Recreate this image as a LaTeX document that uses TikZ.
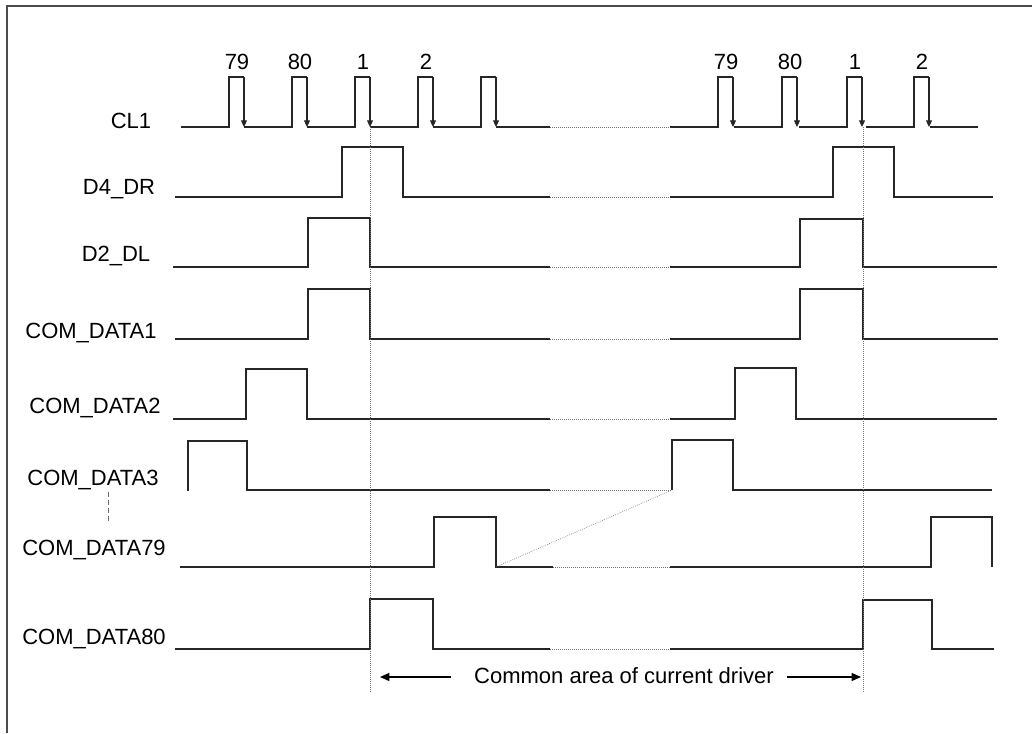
\documentclass[tikz,border=0pt]{standalone}
\usepackage{fontspec}
\setmainfont{Liberation Sans}
\usetikzlibrary{positioning, arrows.meta, calc}

\begin{document}
\begin{tikzpicture}[x=0.75pt, y=-0.75pt,
    sig/.style={line width=0.8pt, black!85},
    gap/.style={densely dotted, line width=0.5pt, black!55},
    lbl/.style={font=\fontsize{16.5}{19}\selectfont, inner sep=0pt, anchor=base},
    clk/.style={sig, -{Triangle[width=4.5pt, length=5pt]}},
    arr/.style={line width=0.9pt, -{Triangle[width=6pt, length=7pt]}}]
  \useasboundingbox (0,0) rectangle (1032,733);
  \draw[line width=1.2pt, black!70] (7,733) -- (7,6) -- (1032,6);

  \node[lbl] (cl1) at (131,128) {CL1};
  \node[lbl] (d4dr) at (119,194) {D4\_DR};
  \node[lbl] (d2dl) at (116,261) {D2\_DL};
  \node[lbl] (com1) at (91,338) {COM\_DATA1};
  \node[lbl] (com2) at (95,413) {COM\_DATA2};
  \node[lbl] (com3) at (93,485) {COM\_DATA3};
  \node[lbl] (com79) at (94,555) {COM\_DATA79};
  \node[lbl] (com80) at (94,644) {COM\_DATA80};
  \draw[black!60, line width=0.6pt, dash pattern=on 4pt off 2pt] (108,492) -- (108,522);

  % CL1
  \foreach \r/\n in {229/79, 292/80, 355/1, 418/2, 481/{}, 718/79, 782/80, 847/1, 914/2} {
    \draw[sig] (\r-48,127) -- (\r,127) |- (\r+15,77);
    \draw[clk] (\r+15,77) -- (\r+15,127);
    \node[lbl] at (\r+8,69) {\n};
  }
  \draw[sig] (496,127) -- (550,127);
  \draw[gap] (550,127) -- (670,127);
  \draw[sig] (930,127) -- (978,127);

  % D4_DR
  \draw[sig] (175,197) -| (342,147) -| (403,197) -- (550,197);
  \draw[gap] (550,197) -- (670,197);
  \draw[sig] (670,197) -| (833,147) -| (894,197) -- (993,197);

  % D2_DL
  \draw[sig] (173,267) -| (308,218) -| (370,267) -- (550,267);
  \draw[gap] (550,267) -- (670,267);
  \draw[sig] (670,267) -| (800,219) -| (863,267) -- (997,267);

  % COM_DATA1
  \draw[sig] (175,339) -| (308,289) -| (370,339) -- (550,339);
  \draw[gap] (550,339) -- (670,339);
  \draw[sig] (670,339) -| (800,289) -| (863,339) -- (998,339);

  % COM_DATA2
  \draw[sig] (173,419) -| (246,369) -| (307,419) -- (550,419);
  \draw[gap] (550,419) -- (670,419);
  \draw[sig] (670,419) -| (735,368) -| (796,419) -- (997,419);

  % COM_DATA3
  \draw[sig] (188,491) |- (247,441) |- (550,490);
  \draw[gap] (550,490) -- (672,490);
  \draw[sig] (672,490) |- (733,440) |- (992,490);

  % COM_DATA79
  \draw[sig] (180,567) -| (434,517) -| (496,567) -- (553,567);
  \draw[gap] (553,567) -- (670,567);
  \draw[sig] (670,567) -| (931,517) -| (992,567);
  \draw[gap] (496,567) -- (672,490);

  % COM_DATA80
  \draw[sig] (175,649) -| (370,599) -| (433,649) -- (550,649);
  \draw[gap] (550,649) -- (670,649);
  \draw[sig] (670,649) -| (863,600) -| (932,649) -- (994,649);

  % common area
  \coordinate (t1) at (370,127);
  \coordinate (t2) at (863,127);
  \draw[gap] (t1) -- (370,693);
  \draw[gap] (t2) -- (863,693);
  \node[lbl] (area) at (624,683) {Common area of current driver};
  \coordinate (la) at (380,677);
  \coordinate (ra) at (861,677);
  \draw[arr] ($(area.base west)+(-23,-6)$) -- (la);
  \draw[arr] ($(area.base east)+(13,-6)$) -- (ra);
\end{tikzpicture}
\end{document}
